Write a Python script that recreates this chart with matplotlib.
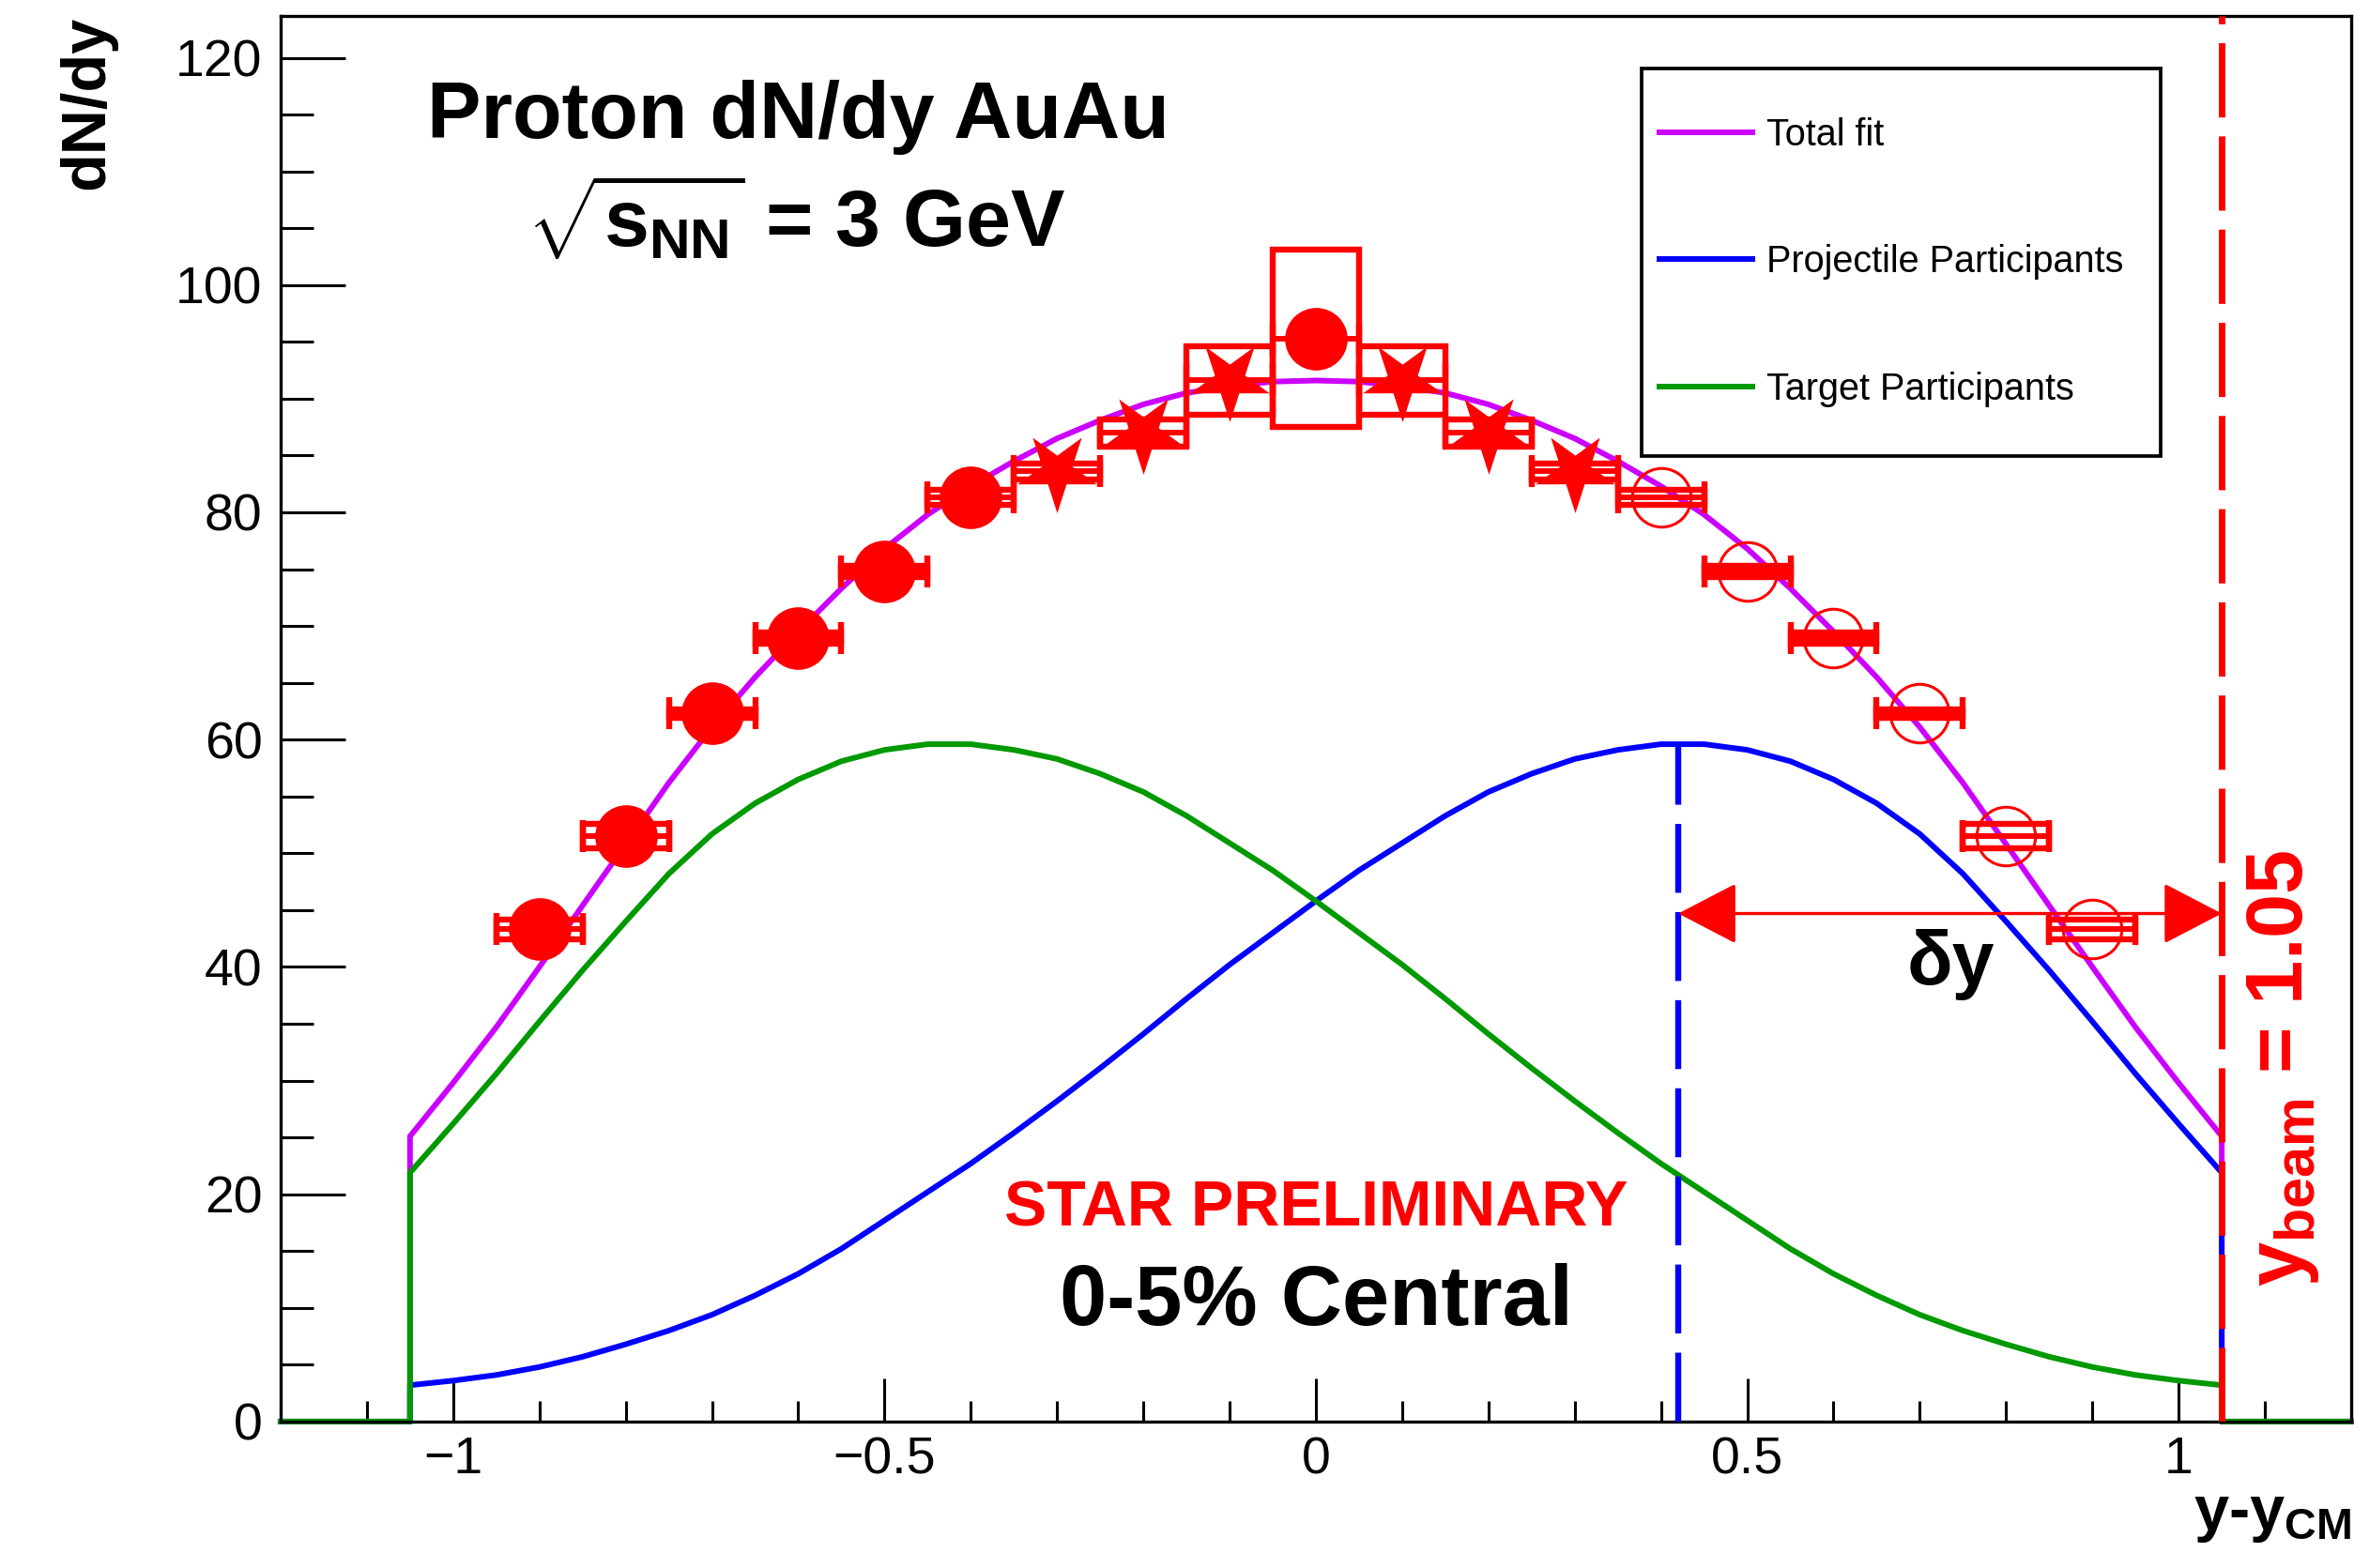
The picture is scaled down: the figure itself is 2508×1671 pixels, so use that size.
import numpy as np
import matplotlib
matplotlib.use("Agg")
import matplotlib.pyplot as plt
from matplotlib.patches import Rectangle
from matplotlib.path import Path
from matplotlib.transforms import Affine2D
from matplotlib.ticker import MultipleLocator, FuncFormatter

plt.rcParams['font.family'] = ['Liberation Sans', 'DejaVu Sans']
plt.rcParams['mathtext.fontset'] = 'custom'
plt.rcParams['mathtext.rm'] = 'Liberation Sans:bold'
plt.rcParams['mathtext.it'] = 'Liberation Sans:bold'
plt.rcParams['mathtext.bf'] = 'Liberation Sans:bold'
plt.rcParams['mathtext.sf'] = 'Liberation Sans:bold'

# measured dN/dy, filled circles
y_circle = [-0.9, -0.8, -0.7, -0.6, -0.5, -0.4, 0.0]
dndy_circle = [43.3, 51.5, 62.3, 68.9, 74.8, 81.3, 95.3]
sys_circle = [0.9, 1.1, 0.4, 0.5, 0.5, 0.65, 7.8]

# stars
y_star = [-0.3, -0.2, -0.1, 0.1, 0.2, 0.3]
dndy_star = [83.6, 87.0, 91.6, 91.6, 87.0, 83.6]
sys_star = [0.7, 1.2, 3.0, 3.0, 1.2, 0.7]

# reflected points (open circles)
y_open = [0.4, 0.5, 0.6, 0.7, 0.8, 0.9]
dndy_open = [81.3, 74.8, 68.9, 62.3, 51.5, 43.3]
sys_open = [0.65, 0.5, 0.5, 0.4, 1.1, 0.9]

bin_half = 0.05

y_fit = np.round(np.linspace(-1.05, 1.05, 43), 2)
projectile = [3.2, 3.6, 4.1, 4.8, 5.7, 6.8, 8.0, 9.4, 11.1, 13.0, 15.2, 17.7, 20.2,
              22.7, 25.4, 28.2, 31.1, 34.1, 37.2, 40.2, 43.0, 45.8, 48.5, 50.9, 53.3,
              55.4, 57.0, 58.3, 59.1, 59.6, 59.6, 59.1, 58.1, 56.5, 54.4, 51.7, 48.2,
              44.0, 39.7, 35.2, 30.6, 26.2, 21.9]
target = [21.9, 26.2, 30.6, 35.2, 39.7, 44.0, 48.2, 51.7, 54.4, 56.5, 58.1, 59.1, 59.6,
          59.6, 59.1, 58.3, 57.0, 55.4, 53.3, 50.9, 48.5, 45.8, 43.0, 40.2, 37.2, 34.1,
          31.1, 28.2, 25.4, 22.7, 20.2, 17.7, 15.2, 13.0, 11.1, 9.4, 8.0, 6.8, 5.7,
          4.8, 4.1, 3.6, 3.2]
total = [25.1, 29.8, 34.7, 40.0, 45.4, 50.8, 56.2, 61.1, 65.5, 69.5, 73.3, 76.8, 79.8,
         82.3, 84.5, 86.5, 88.1, 89.5, 90.5, 91.1, 91.5, 91.6, 91.5, 91.1, 90.5, 89.5,
         88.1, 86.5, 84.5, 82.3, 79.8, 76.8, 73.3, 69.5, 65.5, 61.1, 56.2, 50.8, 45.4,
         40.0, 34.7, 29.8, 25.1]

y_peak = 0.42
peak_val = 59.6
y_beam = 1.05
arrow_level = 44.7

XMIN, XMAX = -1.2, 1.2
YMIN, YMAX = 0, 123.7
RED = '#ff0000'


def with_edges(vals):
    # function is zero outside |y| < y_beam
    xs = [XMIN, y_fit[0]] + list(y_fit) + [y_fit[-1], XMAX]
    ys = [0, 0] + list(vals) + [0, 0]
    return xs, ys


fig = plt.figure(figsize=(25.08, 16.71), dpi=100)
ax = fig.add_axes([0.1192, 0.0934, 0.8796, 0.8966])
ax.set_xlim(XMIN, XMAX)
ax.set_ylim(YMIN, YMAX)

lw_curve = 4.3
l_tot, = ax.plot(*with_edges(total), color='#cc00ff', lw=lw_curve, zorder=2, clip_on=False)
l_proj, = ax.plot(*with_edges(projectile), color='#0000ff', lw=lw_curve, zorder=2.1, clip_on=False)
l_targ, = ax.plot(*with_edges(target), color='#009900', lw=lw_curve, zorder=2.2, clip_on=False)

# systematic boxes + bin-width bars with caps
for xs, ys, ss in [(y_circle, dndy_circle, sys_circle), (y_star, dndy_star, sys_star),
                   (y_open, dndy_open, sys_open)]:
    for x, v, s in zip(xs, ys, ss):
        ax.add_patch(Rectangle((x - bin_half, v - s), 2 * bin_half, 2 * s, fill=False,
                               ec=RED, lw=4.6, zorder=3))
    ax.errorbar(xs, ys, xerr=bin_half, fmt='none', ecolor=RED, elinewidth=4.3,
                capsize=12, capthick=4.6, zorder=3)

star = Path.unit_regular_star(5, innerCircle=0.38).transformed(Affine2D().rotate_deg(180))
ax.plot(y_circle, dndy_circle, 'o', color=RED, ms=48, mew=0, zorder=4)
ax.plot(y_star, dndy_star, marker=star, ls='none', color=RED, ms=64, mew=0, zorder=4)
ax.plot(y_open, dndy_open, 'o', mfc='none', mec=RED, ms=45, mew=2.2, zorder=4)

# peak and beam rapidity markers
ax.plot([y_peak, y_peak], [0, peak_val], color='#0000ff', lw=4.6,
        dashes=(11.5, 3.2), zorder=5)
ax.plot([y_beam, y_beam], [YMIN, YMAX], color=RED, lw=5, dashes=(11.4, 2.9), zorder=5)
ax.annotate('', xy=(y_peak, arrow_level), xytext=(y_beam, arrow_level),
            arrowprops=dict(arrowstyle='<|-|>,head_length=1.0,head_width=0.52',
                            color=RED, lw=2.4, shrinkA=0, shrinkB=0, mutation_scale=40),
            zorder=6)
ax.text(0.736, 40.2, 'δy', fontsize=58, fontweight='bold', ha='center', va='center', zorder=6)
ax.text(1.143, 31.1, r'$y_{beam}$ = 1.05', color=RED, fontsize=61, fontweight='bold',
        rotation=90, rotation_mode='anchor', ha='center', va='baseline', zorder=6)

ax.text(0.0, 17.2, 'STAR PRELIMINARY', color=RED, fontsize=49, fontweight='bold',
        ha='center', va='baseline')
ax.text(0.0, 8.5, '0-5% Central', color='black', fontsize=65, fontweight='bold',
        ha='center', va='baseline')
ax.text(0.2498, 0.913, 'Proton dN/dy AuAu', transform=ax.transAxes, fontsize=62,
        fontweight='bold', ha='center', va='baseline')
ax.text(0.2489, 0.8356, r'$\sqrt{s_{NN}}$ = 3 GeV', transform=ax.transAxes, fontsize=62,
        fontweight='bold', ha='center', va='baseline')

# axes styling, ROOT-like
for sp in ax.spines.values():
    sp.set_linewidth(2.4)
ax.xaxis.set_major_locator(MultipleLocator(0.5))
ax.xaxis.set_minor_locator(MultipleLocator(0.1))
ax.yaxis.set_major_locator(MultipleLocator(20))
ax.yaxis.set_minor_locator(MultipleLocator(5))
ax.xaxis.set_major_formatter(FuncFormatter(lambda v, p: f'{v:g}'.replace('-', '\u2212')))
ax.tick_params(axis='both', which='both', direction='in', top=False, right=False, width=2.2)
ax.tick_params(axis='y', which='major', length=50, pad=14, labelsize=40)
ax.tick_params(axis='y', which='minor', length=25)
ax.tick_params(axis='x', which='major', length=33, pad=11, labelsize=40)
ax.tick_params(axis='x', which='minor', length=16)

ax.set_ylabel('dN/dy', fontsize=48, fontweight='bold', loc='top')
ax.yaxis.set_label_coords(-0.0792, 1.0)
ax.set_xlabel(r'y-y$_{CM}$', fontsize=48, fontweight='bold', loc='right')
ax.xaxis.set_label_coords(1.0, -0.0768)
ax.xaxis.label.set_va('baseline')

# legend with a separate box
ax.add_patch(Rectangle((1749 / 2508, 1 - 486 / 1671), 553 / 2508, 413 / 1671,
                       transform=fig.transFigure, fc='white', ec='black', lw=2.7,
                       zorder=7, clip_on=False))
leg = ax.legend([l_tot, l_proj, l_targ],
                ['Total fit', 'Projectile Participants', 'Target Participants'],
                frameon=False, loc='upper left',
                bbox_to_anchor=(1768 / 2508, 1 - (141.8 - 17.0) / 1671),
                bbox_transform=fig.transFigure, borderpad=0, borderaxespad=0,
                handlelength=2.5, handletextpad=0.39, labelspacing=2.46, fontsize=28.5)
leg.set_zorder(8)

fig.savefig('out.png', dpi=100)
